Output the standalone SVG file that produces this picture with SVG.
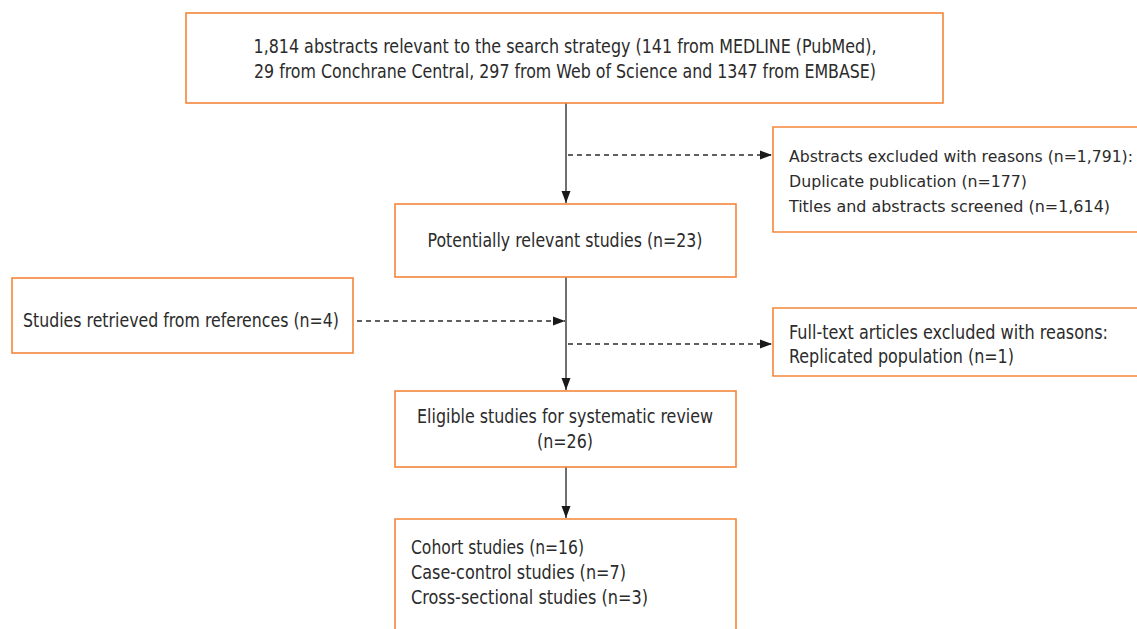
<svg xmlns="http://www.w3.org/2000/svg" width="1137" height="629" viewBox="0 0 1137 629">
<style>
.box{fill:#fff;stroke:#f4863a;stroke-width:1.6}
.t{font-family:"Liberation Sans Narrow","DejaVu Sans Condensed","Liberation Sans",sans-serif;font-stretch:condensed;font-size:19.5px;fill:#2b2b2b}
.s{font-size:16.5px}
.c{text-anchor:middle}
.solid{stroke:#4d4d4d;stroke-width:1.6;fill:none}
.dash{stroke:#2b2b2b;stroke-width:1.3;stroke-dasharray:5 4;fill:none}
</style>
<defs>
<marker id="ah" viewBox="0 0 12 10" refX="12" refY="5" markerWidth="12" markerHeight="10" markerUnits="userSpaceOnUse" orient="auto">
<path d="M0,0.5 L12,5 L0,9.5 Z" fill="#1a1a1a"/>
</marker>
</defs>
<rect width="1137" height="629" fill="#fff"/>
<g id="connectors">
<line class="solid" x1="566" y1="103" x2="566" y2="203" marker-end="url(#ah)"/>
<line class="dash" x1="568" y1="155" x2="772" y2="155" marker-end="url(#ah)"/>
<line class="solid" x1="566" y1="277" x2="566" y2="390" marker-end="url(#ah)"/>
<line class="dash" x1="357" y1="321" x2="565" y2="321" marker-end="url(#ah)"/>
<line class="dash" x1="568" y1="344" x2="772" y2="344" marker-end="url(#ah)"/>
<line class="solid" x1="566" y1="467" x2="566" y2="518" marker-end="url(#ah)"/>
</g>
<g id="n1">
<rect class="box" x="186" y="13" width="757" height="90"/>
<text class="t c" x="565" y="53" textLength="623" lengthAdjust="spacingAndGlyphs">1,814 abstracts relevant to the search strategy (141 from  MEDLINE (PubMed),</text>
<text class="t c" x="565" y="78" textLength="622" lengthAdjust="spacingAndGlyphs">29 from Conchrane Central, 297 from Web of Science and 1347 from EMBASE)</text>
</g>
<g id="n2">
<path class="box" d="M1137,127 H773 V232 H1137"/>
<text class="t s" x="789" y="162" textLength="344" lengthAdjust="spacingAndGlyphs">Abstracts excluded with reasons (n=1,791):</text>
<text class="t s" x="789" y="187" textLength="238" lengthAdjust="spacingAndGlyphs">Duplicate publication (n=177)</text>
<text class="t s" x="789" y="212" textLength="321" lengthAdjust="spacingAndGlyphs">Titles and abstracts screened (n=1,614)</text>
</g>
<g id="n3">
<rect class="box" x="395" y="204" width="341" height="73"/>
<text class="t c" x="565" y="247" textLength="275" lengthAdjust="spacingAndGlyphs">Potentially relevant studies (n=23)</text>
</g>
<g id="n4">
<rect class="box" x="12" y="278" width="341" height="75"/>
<text class="t" x="23" y="327" textLength="316" lengthAdjust="spacingAndGlyphs">Studies retrieved from references (n=4)</text>
</g>
<g id="n5">
<path class="box" d="M1137,308 H773 V376 H1137"/>
<text class="t" x="789" y="339" textLength="319" lengthAdjust="spacingAndGlyphs">Full-text articles excluded with reasons:</text>
<text class="t" x="789" y="363" textLength="225" lengthAdjust="spacingAndGlyphs">Replicated population (n=1)</text>
</g>
<g id="n6">
<rect class="box" x="395" y="391" width="341" height="76"/>
<text class="t c" x="565" y="423" textLength="296" lengthAdjust="spacingAndGlyphs">Eligible studies for systematic review</text>
<text class="t c" x="565" y="448" textLength="56" lengthAdjust="spacingAndGlyphs">(n=26)</text>
</g>
<g id="n7">
<path class="box" d="M395,629 V519 H736 V629"/>
<text class="t" x="411" y="554" textLength="173" lengthAdjust="spacingAndGlyphs">Cohort studies (n=16)</text>
<text class="t" x="411" y="579" textLength="215" lengthAdjust="spacingAndGlyphs">Case-control studies (n=7)</text>
<text class="t" x="411" y="604" textLength="237" lengthAdjust="spacingAndGlyphs">Cross-sectional studies (n=3)</text>
</g>
</svg>
